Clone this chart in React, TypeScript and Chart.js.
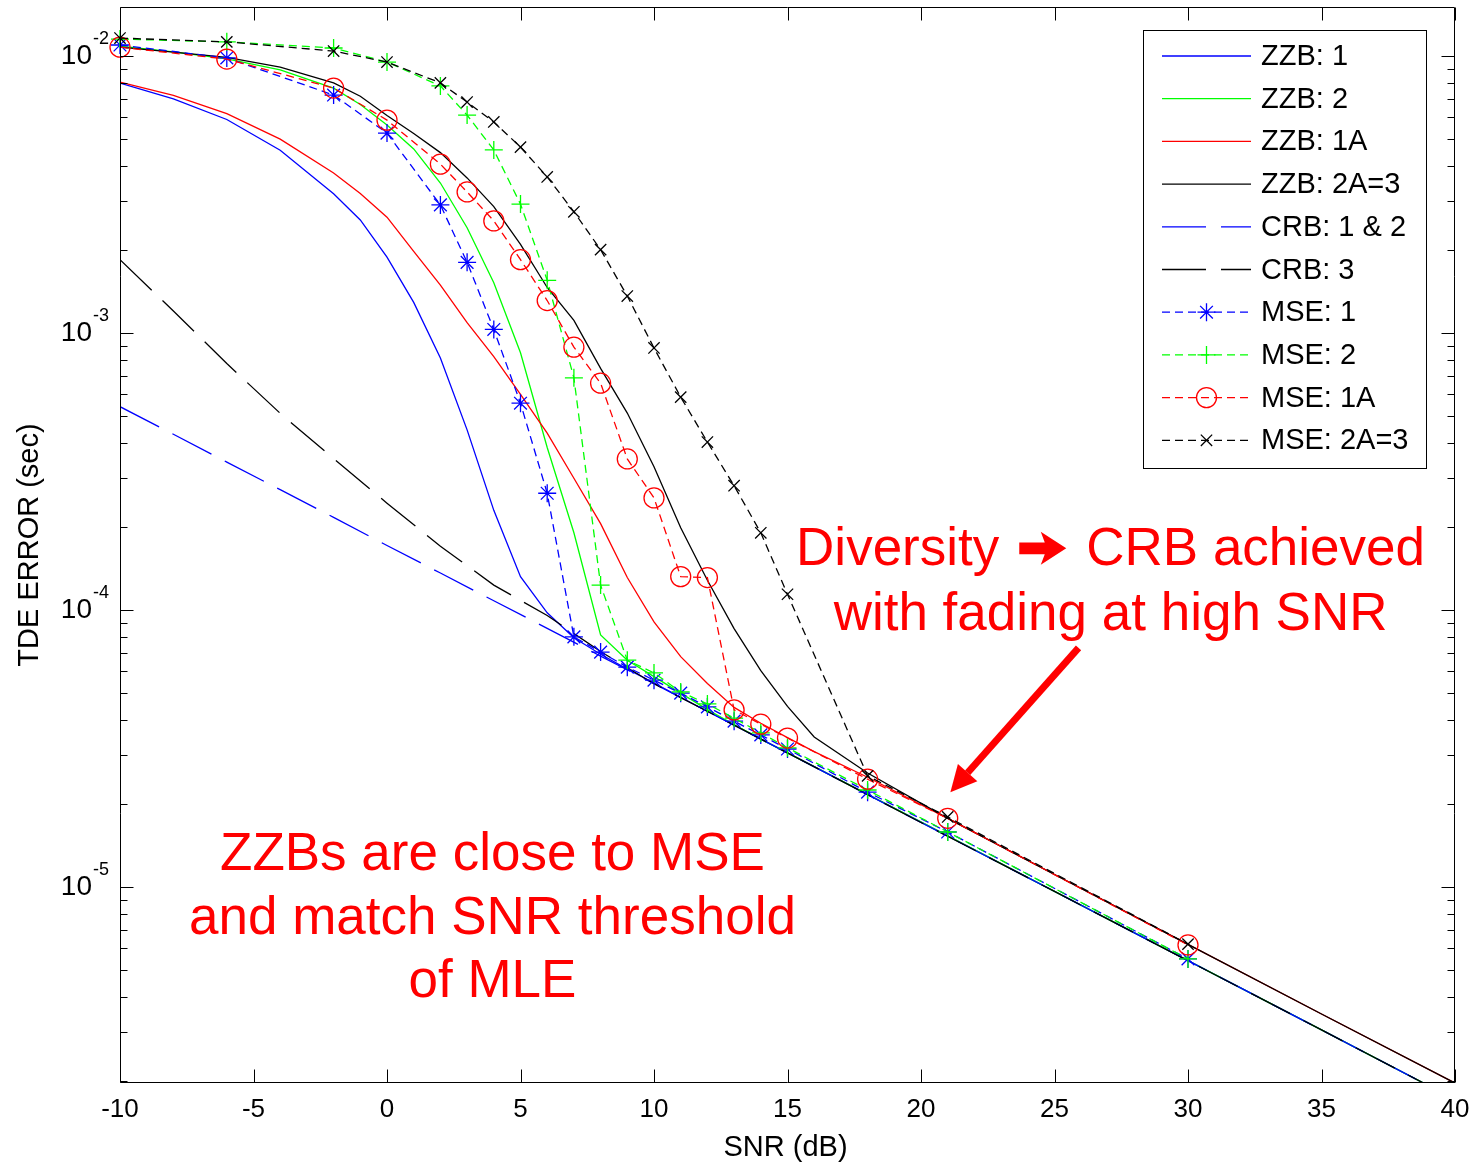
import React, { useEffect, useRef } from 'react';
import { Chart, registerables } from 'chart.js';

Chart.register(...registerables);

// ---- data (TDE error in seconds vs SNR in dB) ----
const snrMse = [-10, -6, -2, 0, 2, 3, 4, 5, 6, 7, 8, 9, 10, 11, 12, 13, 14, 15, 18, 21, 30];
const mse1 = [1.096e-2, 9.84e-3, 7.23e-3, 5.27e-3, 2.9e-3, 1.8e-3, 1.03e-3, 5.58e-4, 2.64e-4, 8.0e-5, 7.05e-5, 6.22e-5, 5.58e-5, 5.01e-5, 4.47e-5, 3.97e-5, 3.54e-5, 3.15e-5, 2.2e-5, 1.58e-5, 5.5e-6];
const mse2 = [1.151e-2, 1.125e-2, 1.069e-2, 9.51e-3, 7.8e-3, 6.12e-3, 4.58e-3, 2.92e-3, 1.55e-3, 6.89e-4, 1.23e-4, 6.59e-5, 5.93e-5, 5.06e-5, 4.58e-5, 4.07e-5, 3.6e-5, 3.18e-5, 2.24e-5, 1.58e-5, 5.5e-6];
const mse1A = [1.076e-2, 9.75e-3, 7.66e-3, 5.87e-3, 4.07e-3, 3.23e-3, 2.54e-3, 1.84e-3, 1.31e-3, 8.89e-4, 6.59e-4, 3.51e-4, 2.54e-4, 1.32e-4, 1.31e-4, 4.36e-5, 3.87e-5, 3.45e-5, 2.45e-5, 1.77e-5, 6.18e-6];
const mse2A3 = [1.161e-2, 1.125e-2, 1.042e-2, 9.51e-3, 8.0e-3, 6.82e-3, 5.78e-3, 4.69e-3, 3.66e-3, 2.74e-3, 2.0e-3, 1.36e-3, 8.83e-4, 5.87e-4, 4.04e-4, 2.81e-4, 1.9e-4, 1.14e-4, 2.52e-5, 1.79e-5, 6.22e-6];

const snrZzb = [-10, -8, -6, -4, -2, -1, 0, 1, 2, 3, 4, 5, 6, 7, 8, 9, 10, 11, 12, 13, 14, 15, 16, 18, 21, 25, 30, 35, 40];
const zzb1 = [7.98e-3, 7.0e-3, 5.9e-3, 4.57e-3, 3.18e-3, 2.56e-3, 1.88e-3, 1.29e-3, 8.13e-4, 4.47e-4, 2.29e-4, 1.32e-4, 9.77e-5, 7.94e-5, 6.92e-5, 6.12e-5, 5.45e-5, 4.84e-5, 4.31e-5, 3.84e-5, 3.42e-5, 3.05e-5, 2.72e-5, 2.16e-5, 1.53e-5, 9.64e-6, 5.42e-6, 3.05e-6, 1.71e-6];
const zzb2 = [1.086e-2, 1.035e-2, 9.77e-3, 8.91e-3, 7.66e-3, 6.68e-3, 5.64e-3, 4.62e-3, 3.48e-3, 2.4e-3, 1.52e-3, 8.49e-4, 3.86e-4, 1.9e-4, 8.13e-5, 6.59e-5, 5.75e-5, 5.01e-5, 4.37e-5, 3.86e-5, 3.42e-5, 3.05e-5, 2.72e-5, 2.16e-5, 1.53e-5, 9.64e-6, 5.42e-6, 3.05e-6, 1.71e-6];
const zzb1A = [8.05e-3, 7.21e-3, 6.19e-3, 5.01e-3, 3.78e-3, 3.19e-3, 2.62e-3, 1.97e-3, 1.49e-3, 1.09e-3, 8.22e-4, 6.01e-4, 4.35e-4, 2.99e-4, 2.05e-4, 1.31e-4, 9.06e-5, 6.79e-5, 5.43e-5, 4.45e-5, 3.9e-5, 3.46e-5, 3.08e-5, 2.49e-5, 1.77e-5, 1.11e-5, 6.21e-6, 3.48e-6, 1.96e-6];
const zzb2A3 = [1.076e-2, 1.033e-2, 9.89e-3, 9.12e-3, 8.0e-3, 7.16e-3, 6.1e-3, 5.25e-3, 4.48e-3, 3.63e-3, 2.86e-3, 2.09e-3, 1.46e-3, 1.11e-3, 7.45e-4, 5.14e-4, 3.29e-4, 1.98e-4, 1.28e-4, 8.57e-5, 6.04e-5, 4.49e-5, 3.48e-5, 2.58e-5, 1.77e-5, 1.11e-5, 6.21e-6, 3.48e-6, 1.96e-6];

const snrCrb = [-10, -8, -6, -4, -2, 0, 2, 4, 6, 8, 10, 15, 20, 25, 30, 35, 40];
const crb12 = [5.42e-4, 4.31e-4, 3.42e-4, 2.72e-4, 2.16e-4, 1.71e-4, 1.36e-4, 1.08e-4, 8.59e-5, 6.82e-5, 5.42e-5, 3.05e-5, 1.71e-5, 9.64e-6, 5.42e-6, 3.05e-6, 1.71e-6];
const crb3 = [1.84e-3, 1.2e-3, 7.76e-4, 5.13e-4, 3.52e-4, 2.43e-4, 1.7e-4, 1.23e-4, 9.55e-5, 7.08e-5, 5.42e-5, 3.05e-5, 1.71e-5, 9.64e-6, 5.42e-6, 3.05e-6, 1.71e-6];

// ---- axes ----
const X_MIN = -10;
const X_MAX = 40;
const Y_MIN = 1.961e-6;
const Y_MAX = 1.503e-2;
const xTicks = [-10, -5, 0, 5, 10, 15, 20, 25, 30, 35, 40];
const yDecades = [-2, -3, -4, -5];
const xTitle = 'SNR (dB)';
const yTitle = 'TDE ERROR (sec)';

// ---- annotations (positions in SNR / seconds) ----
const noteLeft = ['ZZBs are close to MSE', 'and match SNR threshold', 'of MLE'];
const noteLeftAt = { snr: 3.95, value: 1.15e-5 };
const noteRightHead = ['Diversity', 'CRB achieved'];
const noteRightTail = 'with fading at high SNR';
const noteRightAt = { snr: 27.1, value: 1.45e-4 };
const arrowFrom = { snr: 25.9, value: 7.3e-5 };
const arrowTo = { snr: 21.1, value: 2.2e-5 };

const FONT = '"Liberation Sans", Arial, Helvetica, "DejaVu Sans", sans-serif';
const BLUE = '#0000ff';
const GREEN = '#00ff00';
const RED = '#ff0000';
const BLACK = '#000000';
const LONG_DASH = [44, 15];
const SHORT_DASH = [8, 5];

type Marker = 'star' | 'cross' | 'circle' | 'crossRot' | null;
interface Series {
  label: string;
  snr: number[];
  values: number[];
  color: string;
  dash: number[];
  marker: Marker;
  radius: number;
}

const series: Series[] = [
  { label: 'ZZB: 1', snr: snrZzb, values: zzb1, color: BLUE, dash: [], marker: null, radius: 0 },
  { label: 'ZZB: 2', snr: snrZzb, values: zzb2, color: GREEN, dash: [], marker: null, radius: 0 },
  { label: 'ZZB: 1A', snr: snrZzb, values: zzb1A, color: RED, dash: [], marker: null, radius: 0 },
  { label: 'ZZB: 2A=3', snr: snrZzb, values: zzb2A3, color: BLACK, dash: [], marker: null, radius: 0 },
  { label: 'CRB: 1 & 2', snr: snrCrb, values: crb12, color: BLUE, dash: LONG_DASH, marker: null, radius: 0 },
  { label: 'CRB: 3', snr: snrCrb, values: crb3, color: BLACK, dash: LONG_DASH, marker: null, radius: 0 },
  { label: 'MSE: 1', snr: snrMse, values: mse1, color: BLUE, dash: SHORT_DASH, marker: 'star', radius: 9 },
  { label: 'MSE: 2', snr: snrMse, values: mse2, color: GREEN, dash: SHORT_DASH, marker: 'cross', radius: 9 },
  { label: 'MSE: 1A', snr: snrMse, values: mse1A, color: RED, dash: SHORT_DASH, marker: 'circle', radius: 10 },
  { label: 'MSE: 2A=3', snr: snrMse, values: mse2A3, color: BLACK, dash: SHORT_DASH, marker: 'crossRot', radius: 8 },
];

function drawMarker(ctx: CanvasRenderingContext2D, m: Marker, x: number, y: number, r: number, color: string) {
  if (!m) return;
  ctx.save();
  ctx.setLineDash([]);
  ctx.strokeStyle = color;
  ctx.lineWidth = 1.3;
  ctx.beginPath();
  if (m === 'circle') {
    ctx.arc(x, y, r, 0, Math.PI * 2);
  }
  if (m === 'cross' || m === 'star') {
    ctx.moveTo(x - r, y);
    ctx.lineTo(x + r, y);
    ctx.moveTo(x, y - r);
    ctx.lineTo(x, y + r);
  }
  if (m === 'crossRot' || m === 'star') {
    const d = r * Math.SQRT1_2;
    ctx.moveTo(x - d, y - d);
    ctx.lineTo(x + d, y + d);
    ctx.moveTo(x - d, y + d);
    ctx.lineTo(x + d, y - d);
  }
  ctx.stroke();
  ctx.restore();
}

// Heavy right-pointing arrow used inside the note text
function drawTextArrow(ctx: CanvasRenderingContext2D, x: number, midY: number, w: number, h: number) {
  const shaftH = h * 0.36;
  const headX = x + w * 0.5;
  ctx.beginPath();
  ctx.moveTo(x, midY - shaftH / 2);
  ctx.lineTo(headX + 2, midY - shaftH / 2);
  ctx.lineTo(headX - 2, midY - h / 2);
  ctx.lineTo(x + w, midY);
  ctx.lineTo(headX - 2, midY + h / 2);
  ctx.lineTo(headX + 2, midY + shaftH / 2);
  ctx.lineTo(x, midY + shaftH / 2);
  ctx.closePath();
  ctx.fill();
}

// Axes box with inward ticks, tick labels, titles, legend and notes
const framePlugin = {
  id: 'matlabFrame',
  afterDraw(chart: any) {
    const { ctx, chartArea: a } = chart;
    const xs = chart.scales.x;
    const ys = chart.scales.y;
    const L = Math.round(a.left) + 0.5;
    const R = Math.round(a.right) - 0.5;
    const T = Math.round(a.top) + 0.5;
    const B = Math.round(a.bottom) - 0.5;

    ctx.save();
    ctx.strokeStyle = '#000';
    ctx.lineWidth = 1;
    ctx.setLineDash([]);
    ctx.beginPath();
    ctx.rect(L, T, R - L, B - T);
    // x ticks (bottom and top)
    for (const t of xTicks) {
      const px = Math.round(xs.getPixelForValue(t)) + 0.5;
      ctx.moveTo(px, B);
      ctx.lineTo(px, B - 13);
      ctx.moveTo(px, T);
      ctx.lineTo(px, T + 13);
    }
    // y ticks (left and right), majors at decades, minors at 2..9
    for (let e = -6; e <= -2; e++) {
      for (let m = 1; m <= 9; m++) {
        const v = m * Math.pow(10, e);
        if (v < Y_MIN || v > Y_MAX) continue;
        const py = Math.round(ys.getPixelForValue(v)) + 0.5;
        const len = m === 1 ? 13 : 7;
        ctx.moveTo(L, py);
        ctx.lineTo(L + len, py);
        ctx.moveTo(R, py);
        ctx.lineTo(R - len, py);
      }
    }
    ctx.stroke();

    // tick labels
    ctx.fillStyle = '#000';
    ctx.textBaseline = 'alphabetic';
    ctx.font = `26px ${FONT}`;
    ctx.textAlign = 'center';
    for (const t of xTicks) {
      ctx.fillText(String(t), xs.getPixelForValue(t), a.bottom + 34);
    }
    for (const e of yDecades) {
      const py = ys.getPixelForValue(Math.pow(10, e));
      ctx.font = `28px ${FONT}`;
      ctx.textAlign = 'right';
      ctx.fillText('10', a.left - 28, py + 8);
      ctx.font = `18px ${FONT}`;
      ctx.textAlign = 'left';
      ctx.fillText(String(e), a.left - 27, py - 12);
    }

    // axis titles
    ctx.font = `29px ${FONT}`;
    ctx.textAlign = 'center';
    ctx.fillText(xTitle, (a.left + a.right) / 2 - 2, a.bottom + 73);
    ctx.save();
    ctx.translate(38, (a.top + a.bottom) / 2);
    ctx.rotate(-Math.PI / 2);
    ctx.font = `29px ${FONT}`;
    ctx.fillText(yTitle, 0, 0);
    ctx.restore();

    // legend
    const lx = 1143.5;
    const ly = 30.5;
    const lw = 283;
    const lh = 438;
    ctx.fillStyle = '#fff';
    ctx.fillRect(lx, ly, lw, lh);
    ctx.strokeStyle = '#000';
    ctx.lineWidth = 1;
    ctx.strokeRect(lx, ly, lw, lh);
    ctx.font = `29px ${FONT}`;
    ctx.textAlign = 'left';
    ctx.textBaseline = 'middle';
    series.forEach((s, i) => {
      const ry = 56 + i * 42.7;
      const x0 = 1162;
      const x1 = 1251;
      ctx.save();
      ctx.strokeStyle = s.color;
      ctx.lineWidth = 1.3;
      ctx.setLineDash(s.dash);
      ctx.beginPath();
      ctx.moveTo(x0, ry);
      ctx.lineTo(x1, ry);
      ctx.stroke();
      ctx.restore();
      drawMarker(ctx, s.marker, (x0 + x1) / 2, ry, s.radius, s.color);
      ctx.fillStyle = '#000';
      ctx.fillText(s.label, 1261, ry + 1);
    });

    // notes
    ctx.fillStyle = RED;
    ctx.textBaseline = 'alphabetic';
    ctx.font = `53px ${FONT}`;
    ctx.textAlign = 'center';
    const lxp = xs.getPixelForValue(noteLeftAt.snr);
    const lyp = ys.getPixelForValue(noteLeftAt.value);
    noteLeft.forEach((t, i) => ctx.fillText(t, lxp, lyp + i * 63.5));

    const rxp = xs.getPixelForValue(noteRightAt.snr);
    const ryp = ys.getPixelForValue(noteRightAt.value);
    const gap = 20;
    const arrowW = 47;
    const w1 = ctx.measureText(noteRightHead[0]).width;
    const w2 = ctx.measureText(noteRightHead[1]).width;
    const total = w1 + gap + arrowW + gap + w2;
    let cx = rxp - total / 2;
    ctx.textAlign = 'left';
    ctx.fillText(noteRightHead[0], cx, ryp);
    cx += w1 + gap;
    drawTextArrow(ctx, cx, ryp - 17, arrowW, 33);
    cx += arrowW + gap;
    ctx.fillText(noteRightHead[1], cx, ryp);
    ctx.textAlign = 'center';
    ctx.fillText(noteRightTail, rxp, ryp + 65);

    // arrow
    const ax0 = xs.getPixelForValue(arrowFrom.snr);
    const ay0 = ys.getPixelForValue(arrowFrom.value);
    const ax1 = xs.getPixelForValue(arrowTo.snr);
    const ay1 = ys.getPixelForValue(arrowTo.value);
    const ang = Math.atan2(ay1 - ay0, ax1 - ax0);
    const headLen = 26;
    const headHalf = 13;
    const bx = ax1 - headLen * Math.cos(ang);
    const by = ay1 - headLen * Math.sin(ang);
    ctx.strokeStyle = RED;
    ctx.lineWidth = 7;
    ctx.lineCap = 'butt';
    ctx.beginPath();
    ctx.moveTo(ax0, ay0);
    ctx.lineTo(bx, by);
    ctx.stroke();
    ctx.beginPath();
    ctx.moveTo(ax1, ay1);
    ctx.lineTo(bx + headHalf * Math.sin(ang), by - headHalf * Math.cos(ang));
    ctx.lineTo(bx - headHalf * Math.sin(ang), by + headHalf * Math.cos(ang));
    ctx.closePath();
    ctx.fill();

    ctx.restore();
  },
};

export default function App() {
  const ref = useRef<HTMLCanvasElement>(null);

  useEffect(() => {
    const canvas = ref.current;
    if (!canvas) return;
    const datasets = series.map((s, i) => ({
      label: s.label,
      data: s.snr.map((x, k) => ({ x, y: s.values[k] })),
      borderColor: s.color,
      borderWidth: 1.3,
      borderDash: s.dash,
      tension: 0,
      fill: false,
      order: series.length - i,
      pointRadius: s.marker ? s.radius : 0,
      pointHoverRadius: s.marker ? s.radius : 0,
      pointStyle: s.marker || 'circle',
      pointBorderColor: s.color,
      pointBackgroundColor: 'rgba(0,0,0,0)',
      pointBorderWidth: 1.3,
      clip: s.marker ? false : 0,
    }));
    const chart = new Chart(canvas, {
      type: 'line',
      data: { datasets } as any,
      options: {
        animation: false,
        responsive: false,
        devicePixelRatio: 1,
        events: [],
        layout: { autoPadding: false, padding: { left: 120, top: 7, right: 21, bottom: 81 } },
        scales: {
          x: { type: 'linear', min: X_MIN, max: X_MAX, display: false },
          y: { type: 'logarithmic', min: Y_MIN, max: Y_MAX, display: false },
        },
        plugins: { legend: { display: false }, tooltip: { enabled: false } },
      } as any,
      plugins: [framePlugin],
    });
    return () => chart.destroy();
  }, []);

  return (
    <div style={{ position: 'absolute', left: 0, top: 0, width: 1476, height: 1164, background: '#fff' }}>
      <canvas ref={ref} width={1476} height={1164} style={{ display: 'block' }} />
    </div>
  );
}
